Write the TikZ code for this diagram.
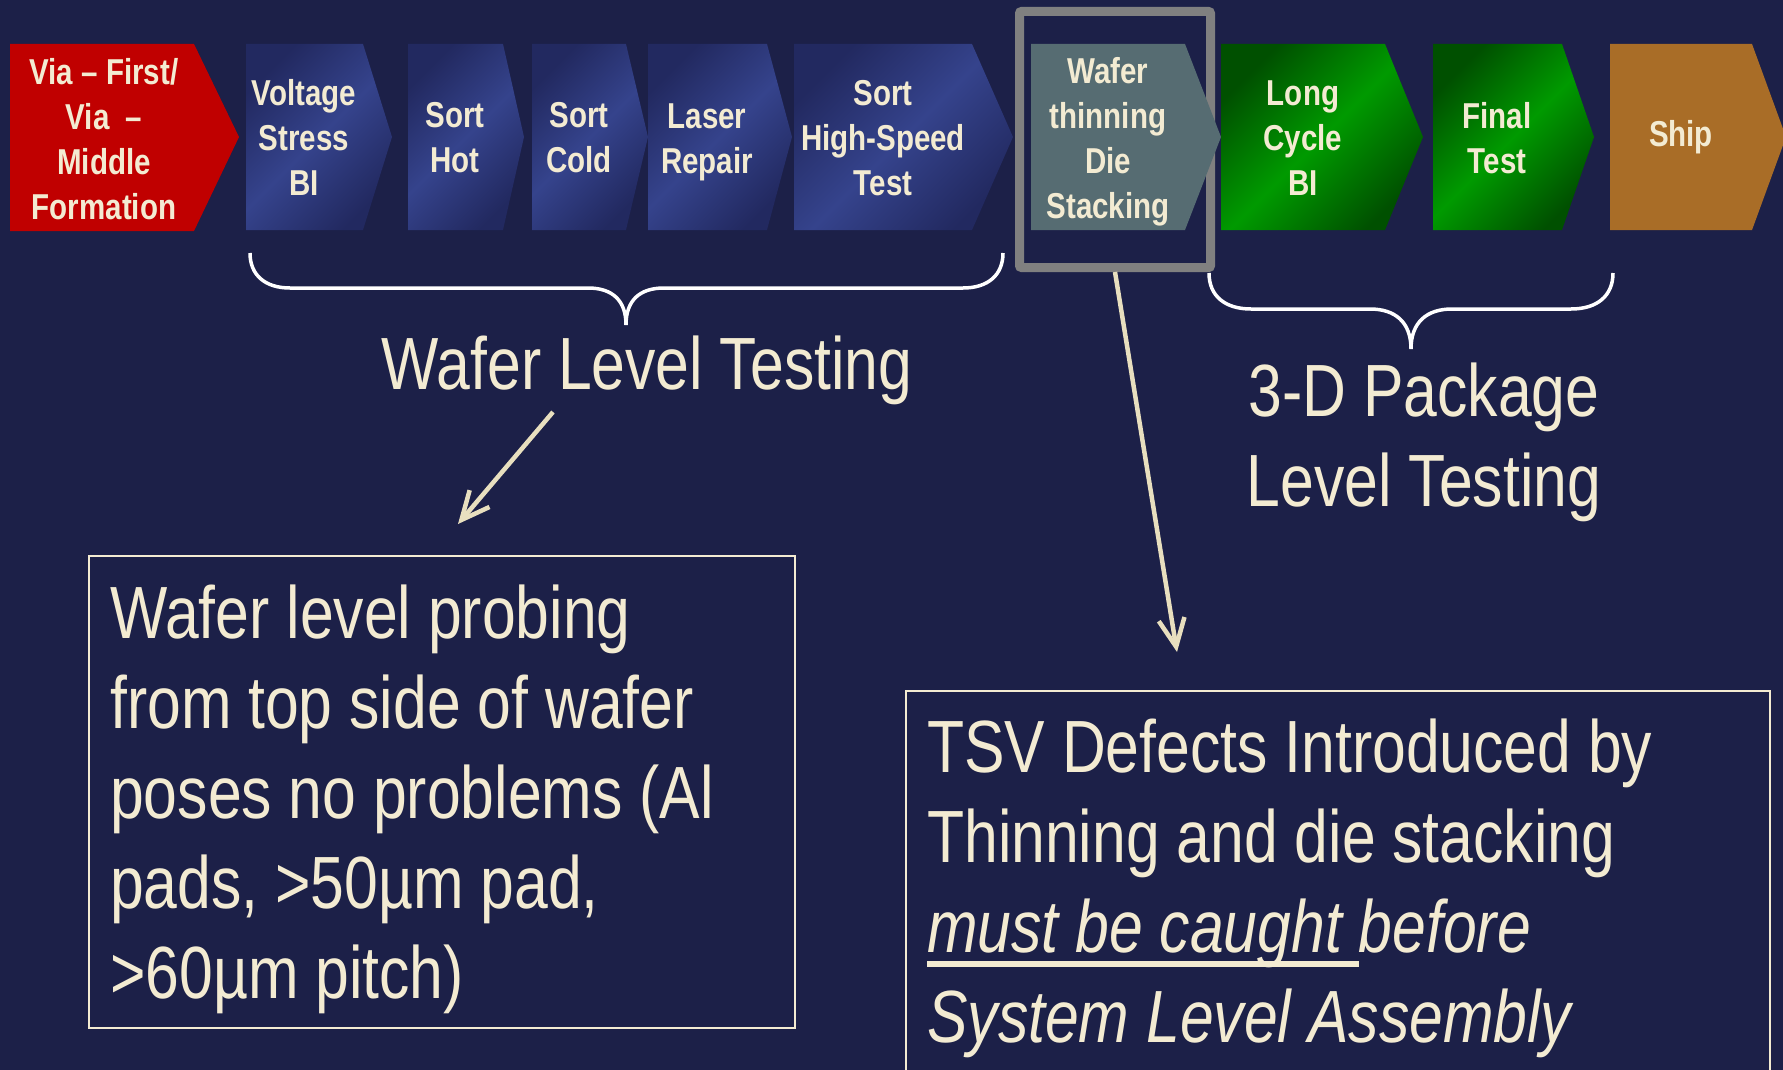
\documentclass[tikz,border=0pt]{standalone}
\usepackage{fontspec}
\setmainfont{Liberation Sans}[FakeStretch=0.82]
\usepackage{tikz}
\usetikzlibrary{arrows.meta}

\definecolor{bgnavy}{HTML}{1C2048}
\definecolor{cream}{HTML}{F3EBD2}
\definecolor{arrowcream}{HTML}{E8DFBF}
\definecolor{viared}{HTML}{C00000}
\definecolor{bluedark}{HTML}{222960}
\definecolor{bluelight}{HTML}{35438C}
\definecolor{greendark}{HTML}{005000}
\definecolor{greenlight}{HTML}{009A00}
\definecolor{stackgray}{HTML}{566C72}
\definecolor{shipbrown}{HTML}{A96D27}

\newcommand{\thickul}[1]{\setbox0\hbox{#1}\rlap{\rule[-14pt]{\wd0}{6pt}}\box0}

\begin{document}
\begin{tikzpicture}[x=1pt,y=1pt,
		chevtext/.style={text=cream,align=center,inner sep=0pt,font=\bfseries\fontsize{36}{45}\selectfont},
		bluechev/.style={top color=bluedark,bottom color=bluedark,middle color=bluelight,shading angle=45},
		greenchev/.style={top color=greendark,bottom color=greendark,middle color=greenlight,shading angle=45},
		bigtext/.style={text=cream,inner sep=0pt,font=\fontsize{74}{90}\selectfont},
		boxline/.style={draw=cream,line width=2pt},
		notearrow/.style={draw=arrowcream,line width=4.5pt,-{Straight Barb[length=28pt,width=26pt]}},
		bracket/.style={draw=white,line width=3.5pt}]
		\path[use as bounding box,fill=bgnavy] (0,0) rectangle (1783,-1070);
		
		% frame round the stacking step
		\node[draw=gray,line width=9pt,rounded corners=2pt,minimum width=191pt,minimum height=256pt,inner sep=0pt] (stackframe) at (1115,-139.5) {};
		
		% process steps
		\path[fill=viared] (10,-44) -- (194,-44) -- (239,-137) -- (194,-231) -- (10,-231) -- cycle;
		\path[bluechev] (246,-44) -- (363,-44) -- (392,-137) -- (363,-230) -- (246,-230) -- cycle;
		\path[bluechev] (408,-44) -- (503,-44) -- (524,-137) -- (503,-230) -- (408,-230) -- cycle;
		\path[bluechev] (532,-44) -- (626,-44) -- (648,-137) -- (626,-230) -- (532,-230) -- cycle;
		\path[bluechev] (648,-44) -- (767,-44) -- (792,-137) -- (767,-230) -- (648,-230) -- cycle;
		\path[bluechev] (794,-44) -- (972,-44) -- (1013,-137) -- (972,-230) -- (794,-230) -- cycle;
		\path[fill=stackgray] (1031,-44) -- (1185,-44) -- (1221,-137) -- (1185,-230) -- (1031,-230) -- cycle;
		\path[greenchev] (1221,-44) -- (1385,-44) -- (1423,-137) -- (1385,-230) -- (1221,-230) -- cycle;
		\path[greenchev] (1433,-44) -- (1562,-44) -- (1594,-137) -- (1562,-230) -- (1433,-230) -- cycle;
		\path[fill=shipbrown] (1610,-44) -- (1752,-44) -- (1786,-137) -- (1752,-230) -- (1610,-230) -- cycle;
		
		\node[chevtext] (via) at (104,-139) {Via – First/\\Via~~–\\Middle\\Formation};
		\node[chevtext] (stress) at (304,-137) {Voltage\\Stress\\BI};
		\node[chevtext] (hot) at (455,-138) {Sort\\Hot};
		\node[chevtext] (cold) at (579,-138) {Sort\\Cold};
		\node[chevtext] (laser) at (707,-142) {Laser\\Repair};
		\node[chevtext] (speed) at (883,-138) {Sort\\High-Speed\\Test};
		\node[chevtext] (thinning) at (1108,-142) {Wafer\\thinning\\Die\\Stacking};
		\node[chevtext] (longbi) at (1303,-138) {Long\\Cycle\\BI};
		\node[chevtext] (final) at (1497,-138) {Final\\Test};
		\node[chevtext] (ship) at (1681,-137) {Ship};
		
		% braces
		\path[bracket] (250,-253) .. controls (250,-275) and (265,-288) .. (290,-288) -- (588,-288)
			.. controls (612,-288) and (626,-300) .. (626,-325) .. controls (626,-300) and (640,-288) .. (664,-288)
			-- (963,-288) .. controls (988,-288) and (1003,-275) .. (1003,-253);
		\path[bracket] (1209,-273) .. controls (1209,-296) and (1225,-309) .. (1251,-309) -- (1370,-309)
			.. controls (1395,-309) and (1411,-322) .. (1411,-349) .. controls (1411,-322) and (1427,-309) .. (1452,-309)
			-- (1571,-309) .. controls (1597,-309) and (1613,-296) .. (1613,-273);
		
		\node[bigtext,anchor=base] (waferlevel) at (647,-389) {Wafer Level Testing};
		\node[bigtext,align=center,anchor=north] (packagelevel) at (1424,-363) {3-D Package\\Level Testing};
		
		% notes
		\draw[boxline] (89,-556) rectangle (795,-1028);
		\node[bigtext,align=left,anchor=north west] (probing) at (110,-585) {Wafer level probing\\from top side of wafer\\poses no problems (Al\\pads, >50µm pad,\\>60µm pitch)};
		\draw[boxline] (906,-691) rectangle (1770,-1090);
		\node[bigtext,align=left,anchor=north west] (tsv) at (927,-719) {TSV Defects Introduced by\\Thinning and die stacking\\\textit{\thickul{must be caught }before}\\\textit{System Level Assembly}};
		
		\coordinate (waferout) at (553,-412);
		\coordinate (probingin) at (458,-524);
		\coordinate (tsvin) at (1177,-652);
		\draw[notearrow] (waferout) -- (probingin);
		\draw[notearrow] (stackframe.south) -- (tsvin);
	\end{tikzpicture}
\end{document}
